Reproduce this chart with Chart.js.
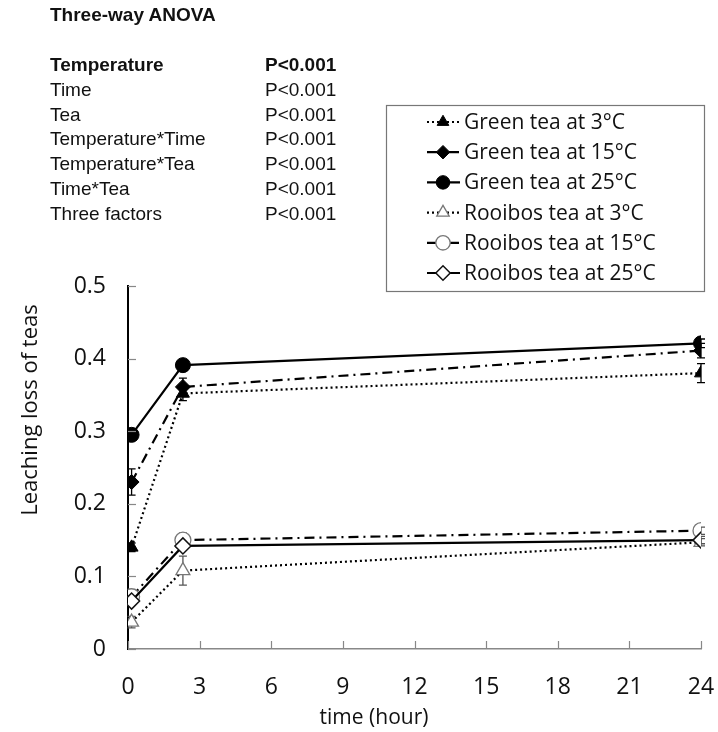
<!DOCTYPE html>
<html>
<head>
<meta charset="utf-8">
<script src="https://cdn.jsdelivr.net/npm/chart.js@4.4.1/dist/chart.umd.min.js"></script>
<style>
  html, body { margin: 0; padding: 0; background: #fff; }
  #wrap { position: relative; width: 718px; height: 732px; }
  canvas { position: absolute; left: 0; top: 0; }
  .anova { position: absolute; font-family: "Liberation Sans", Arial, sans-serif; font-size: 19px; color: #111; line-height: 25px; white-space: nowrap; }
</style>
</head>
<body>
<div id="wrap">
  <canvas id="c" width="718" height="732"></canvas>
</div>
<script>
// ---- data ----
const times = [0.15, 2.3, 24];
const seriesNames = ["Green tea at 3°C", "Green tea at 15°C", "Green tea at 25°C",
                     "Rooibos tea at 3°C", "Rooibos tea at 15°C", "Rooibos tea at 25°C"];
const green3    = [0.140, 0.352, 0.380];
const green15   = [0.230, 0.361, 0.411];
const green25   = [0.295, 0.391, 0.421];
const rooibos3  = [0.037, 0.108, 0.147];
const rooibos15 = [0.072, 0.150, 0.163];
const rooibos25 = [0.066, 0.142, 0.150];
const errGreen3    = [0.006, 0.010, 0.013];
const errGreen15   = [0.018, 0.012, 0.010];
const errGreen25   = [0.005, 0.005, 0.006];
const errRooibos3  = [0.008, 0.020, 0.005];
const errRooibos15 = [0.010, 0.010, 0.005];
const errRooibos25 = [0.006, 0.005, 0.005];
const xTicks = [0, 3, 6, 9, 12, 15, 18, 21, 24];
const yTicks = [0, 0.1, 0.2, 0.3, 0.4, 0.5];
const anovaTitle = "Three-way ANOVA";
const anovaFactors = ["Temperature", "Time", "Tea", "Temperature*Time", "Temperature*Tea", "Time*Tea", "Three factors"];
const anovaP = ["P<0.001", "P<0.001", "P<0.001", "P<0.001", "P<0.001", "P<0.001", "P<0.001"];
const xTitle = "time (hour)";
const yTitle = "Leaching loss of teas";

// ---- ANOVA text block (HTML text) ----
const wrap = document.getElementById('wrap');
function addText(txt, x, y, bold) {
  const d = document.createElement('div');
  d.className = 'anova';
  d.style.left = x + 'px';
  d.style.top = y + 'px';
  if (bold) d.style.fontWeight = 'bold';
  d.textContent = txt;
  wrap.appendChild(d);
}
addText(anovaTitle, 50, 2, true);
anovaFactors.forEach((f, i) => {
  addText(f, 50, 52 + i * 24.8, i === 0);
  addText(anovaP[i], 265, 52 + i * 24.8, i === 0);
});

// ---- datasets ----
const values = [green3, green15, green25, rooibos3, rooibos15, rooibos25];
const errors = [errGreen3, errGreen15, errGreen25, errRooibos3, errRooibos15, errRooibos25];
const styles = [
  { dash: [2, 3],        point: 'triangle', radius: 7.5, fill: '#000', stroke: '#000', pbw: 1 },
  { dash: [10, 5, 2, 5], point: 'rectRot',  radius: 7.5, fill: '#000', stroke: '#000', pbw: 1 },
  { dash: [],            point: 'circle',   radius: 7.5, fill: '#000', stroke: '#000', pbw: 1 },
  { dash: [2, 3],        point: 'triangle', radius: 8,   fill: '#fff', stroke: '#777', pbw: 1.3 },
  { dash: [10, 5, 2, 5], point: 'circle',   radius: 8,   fill: '#fff', stroke: '#777', pbw: 1.3 },
  { dash: [],            point: 'rectRot',  radius: 8,   fill: '#fff', stroke: '#111', pbw: 1.5 }
];
const datasets = values.map((v, i) => ({
  label: seriesNames[i],
  data: times.map((t, k) => ({ x: t, y: v[k] })),
  borderColor: '#000',
  borderWidth: 2.2,
  borderDash: styles[i].dash,
  pointStyle: styles[i].point,
  pointRadius: styles[i].radius,
  pointBackgroundColor: styles[i].fill,
  pointBorderColor: styles[i].stroke,
  pointBorderWidth: styles[i].pbw,
  tension: 0,
  fill: false,
  order: 6 - i
}));

const tickFont = { family: "'Open Sans', sans-serif", size: 23 };

const decorPlugin = {
  id: 'decor',
  beforeDatasetsDraw(chart) {
    const ctx = chart.ctx;
    const xs = chart.scales.x, ys = chart.scales.y;
    // error bars
    ctx.save();
    ctx.setLineDash([]);
    ctx.lineWidth = 1.3;
    values.forEach((v, i) => {
      ctx.strokeStyle = styles[i].fill === '#000' ? '#000' : '#555';
      times.forEach((t, k) => {
        const px = xs.getPixelForValue(t);
        const y1 = ys.getPixelForValue(v[k] + errors[i][k]);
        const y2 = ys.getPixelForValue(v[k] - errors[i][k]);
        ctx.beginPath();
        ctx.moveTo(px, y1); ctx.lineTo(px, y2);
        ctx.moveTo(px - 4, y1); ctx.lineTo(px + 4, y1);
        ctx.moveTo(px - 4, y2); ctx.lineTo(px + 4, y2);
        ctx.stroke();
      });
    });
    ctx.restore();
  },
  afterDraw(chart) {
    const ctx = chart.ctx;
    const xs = chart.scales.x, ys = chart.scales.y;
    const area = chart.chartArea;
    ctx.save();
    // inside tick marks
    ctx.setLineDash([]);
    ctx.strokeStyle = '#888';
    ctx.lineWidth = 1.2;
    yTicks.forEach(v => {
      const py = Math.round(ys.getPixelForValue(v)) + 0.5;
      ctx.beginPath(); ctx.moveTo(area.left, py); ctx.lineTo(area.left + 8, py); ctx.stroke();
    });
    xTicks.forEach(v => {
      const px = Math.round(xs.getPixelForValue(v)) + 0.5;
      ctx.beginPath(); ctx.moveTo(px, area.bottom); ctx.lineTo(px, area.bottom - 8); ctx.stroke();
    });
    // axis titles
    ctx.fillStyle = '#111';
    ctx.font = "21px 'Open Sans', sans-serif";
    ctx.textAlign = 'center';
    ctx.textBaseline = 'middle';
    ctx.fillText(xTitle, 374, 718);
    ctx.save();
    ctx.translate(31, 410);
    ctx.rotate(-Math.PI / 2);
    ctx.font = "22px 'Open Sans', sans-serif";
    ctx.fillText(yTitle, 0, 0);
    ctx.restore();
    // legend box
    ctx.strokeStyle = '#777';
    ctx.lineWidth = 1.2;
    ctx.strokeRect(386.5, 105.5, 318, 186);
    ctx.font = "21px 'Open Sans', sans-serif";
    ctx.textAlign = 'left';
    chart.data.datasets.forEach((ds, i) => {
      const cy = 122 + i * 30.2;
      ctx.save();
      ctx.strokeStyle = '#000';
      ctx.lineWidth = 2.2;
      ctx.setLineDash(ds.borderDash);
      ctx.beginPath(); ctx.moveTo(427, cy); ctx.lineTo(460, cy); ctx.stroke();
      ctx.setLineDash([]);
      ctx.fillStyle = ds.pointBackgroundColor;
      ctx.strokeStyle = ds.pointBorderColor;
      ctx.lineWidth = ds.pointBorderWidth;
      Chart.helpers.drawPoint(ctx, { pointStyle: ds.pointStyle, radius: ds.pointRadius * 0.9, rotation: 0, borderWidth: ds.pointBorderWidth }, 443, cy);
      ctx.restore();
      ctx.fillStyle = '#111';
      ctx.fillText(ds.label, 464, cy + 1);
    });
    ctx.restore();
  }
};

new Chart(document.getElementById('c'), {
  type: 'line',
  data: { datasets },
  options: {
    responsive: false,
    animation: false,
    devicePixelRatio: 1,
    layout: { padding: { top: 286, left: 0, right: 17, bottom: 0 } },
    plugins: { legend: { display: false }, tooltip: { enabled: false } },
    scales: {
      x: {
        type: 'linear', min: 0, max: 24,
        afterFit(s) { s.height = 83; s.paddingLeft = 0; s.paddingRight = 0; },
        afterBuildTicks(s) { s.ticks = xTicks.map(v => ({ value: v })); },
        ticks: { font: tickFont, color: '#111', padding: 25 },
        grid: { drawOnChartArea: false, drawTicks: false },
        border: { color: '#888', width: 1.5 }
      },
      y: {
        type: 'linear', min: 0, max: 0.5,
        afterFit(s) { s.width = 128; s.paddingTop = 0; s.paddingBottom = 0; },
        afterBuildTicks(s) { s.ticks = yTicks.map(v => ({ value: v })); },
        ticks: { font: tickFont, color: '#111', padding: 22, callback: v => (v === 0 ? '0' : v.toFixed(1)) },
        grid: { drawOnChartArea: false, drawTicks: false },
        border: { color: '#000', width: 2 }
      }
    }
  },
  plugins: [decorPlugin]
});
</script>
</body>
</html>
